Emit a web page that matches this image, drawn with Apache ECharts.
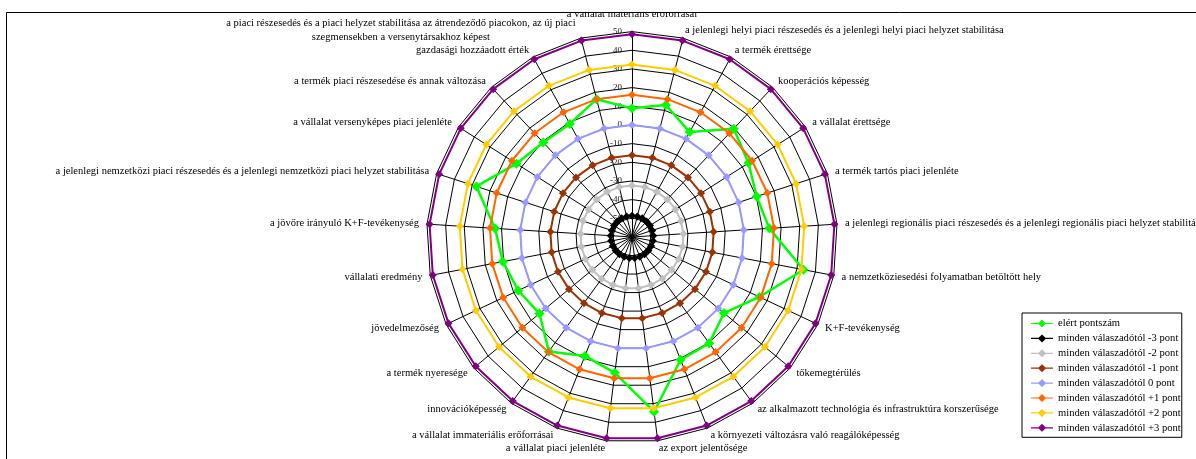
<!DOCTYPE html>
<html>
<head>
<meta charset="utf-8">
<script src="https://cdn.jsdelivr.net/npm/echarts@6/dist/echarts.min.js"></script>
<style>
  html, body { margin: 0; padding: 0; background: #fff; }
  #chart { width: 1196px; height: 459px; }
</style>
</head>
<body>
<div id="chart"></div>
<script>
// Criteria, listed clockwise starting from the top spoke
const categories = [
  'a vállalat materiális erőforrásai',
  'a jelenlegi helyi piaci részesedés és a jelenlegi helyi piaci helyzet stabilitása',
  'a termék érettsége',
  'kooperációs képesség',
  'a vállalat érettsége',
  'a termék tartós piaci jelenléte',
  'a jelenlegi regionális piaci részesedés és a jelenlegi regionális piaci helyzet stabilitása',
  'a nemzetköziesedési folyamatban betöltött hely',
  'K+F-tevékenység',
  'tőkemegtérülés',
  'az alkalmazott technológia és infrastruktúra korszerűsége',
  'a környezeti változásra való reagálóképesség',
  'az export jelentősége',
  'a vállalat piaci jelenléte',
  'a vállalat immateriális erőforrásai',
  'innovációképesség',
  'a termék nyeresége',
  'jövedelmezőség',
  'vállalati eredmény',
  'a jövőre irányuló K+F-tevékenység',
  'a jelenlegi nemzetközi piaci részesedés és a jelenlegi nemzetközi piaci helyzet stabilitása',
  'a vállalat versenyképes piaci jelenléte',
  'a termék piaci részesedése és annak változása',
  'gazdasági hozzáadott érték',
  'a piaci részesedés és a piaci helyzet stabilitása az átrendeződő piacokon, az új piaci\nszegmensekben a versenytársakhoz képest'
];

// Achieved score per criterion
const achieved = [8.9, 13.0, 4.1, 19.6, 13.9, 10.2, 13.7, 33.5, 15.4, 3.9, 10.4, 10.7, 34.3,
                  13.3, 8.5, 15.8, 4.3, 7.3, 10.4, 13.5, 27.6, 13.3, 9.4, 9.1, 16.2];

// Reference levels: every respondent giving the same score
const allMinus3 = [-48.6, -48.6, -48.6, -48.6, -48.6, -48.6, -48.6, -48.6, -48.6, -48.6, -48.6, -48.6, -48.6,
                   -48.6, -48.6, -48.6, -48.6, -48.6, -48.6, -48.6, -48.6, -48.6, -48.6, -48.6, -48.6];
const allMinus2 = [-32.4, -32.4, -32.4, -32.4, -32.4, -32.4, -32.4, -32.4, -32.4, -32.4, -32.4, -32.4, -32.4,
                   -32.4, -32.4, -32.4, -32.4, -32.4, -32.4, -32.4, -32.4, -32.4, -32.4, -32.4, -32.4];
const allMinus1 = [-16.2, -16.2, -16.2, -16.2, -16.2, -16.2, -16.2, -16.2, -16.2, -16.2, -16.2, -16.2, -16.2,
                   -16.2, -16.2, -16.2, -16.2, -16.2, -16.2, -16.2, -16.2, -16.2, -16.2, -16.2, -16.2];
const allZero   = [0, 0, 0, 0, 0, 0, 0, 0, 0, 0, 0, 0, 0,
                   0, 0, 0, 0, 0, 0, 0, 0, 0, 0, 0, 0];
const allPlus1  = [16.2, 16.2, 16.2, 16.2, 16.2, 16.2, 16.2, 16.2, 16.2, 16.2, 16.2, 16.2, 16.2,
                   16.2, 16.2, 16.2, 16.2, 16.2, 16.2, 16.2, 16.2, 16.2, 16.2, 16.2, 16.2];
const allPlus2  = [32.4, 32.4, 32.4, 32.4, 32.4, 32.4, 32.4, 32.4, 32.4, 32.4, 32.4, 32.4, 32.4,
                   32.4, 32.4, 32.4, 32.4, 32.4, 32.4, 32.4, 32.4, 32.4, 32.4, 32.4, 32.4];
const allPlus3  = [48.6, 48.6, 48.6, 48.6, 48.6, 48.6, 48.6, 48.6, 48.6, 48.6, 48.6, 48.6, 48.6,
                   48.6, 48.6, 48.6, 48.6, 48.6, 48.6, 48.6, 48.6, 48.6, 48.6, 48.6, 48.6];

const seriesNames = [
  'elért pontszám',
  'minden válaszadótól -3 pont',
  'minden válaszadótól -2 pont',
  'minden válaszadótól -1 pont',
  'minden válaszadótól 0 pont',
  'minden válaszadótól +1 pont',
  'minden válaszadótól +2 pont',
  'minden válaszadótól +3 pont'
];
const seriesValues = [achieved, allMinus3, allMinus2, allMinus1, allZero, allPlus1, allPlus2, allPlus3];
const seriesColors = ['#00FF00', '#000000', '#C0C0C0', '#993300', '#9999FF', '#FF6600', '#FFCC00', '#800080'];

// Value axis range and step
const axisMin = -60;
const axisMax = 50;
const axisStep = 10;

const FONT = '"Liberation Serif", "Times New Roman", serif';

// ECharts lays radar spokes out counter-clockwise; reorder so the criteria run clockwise.
const n = categories.length;
const order = categories.map((_, j) => (n - j) % n);
const reorder = arr => order.map(i => arr[i]);

const indicators = reorder(categories).map((name, j) => {
  const ind = { name: name, min: axisMin, max: axisMax };
  if (j === 0) {
    ind.axisLabel = {
      show: true, color: '#222', fontSize: 9, fontFamily: FONT,
      margin: 10, showMinLabel: false
    };
    ind.nameTextStyle = { padding: [0, 0, 4, 0] };
  }
  return ind;
});

// Legend marker: short line with a diamond in the middle
const legendIcon = 'path://M0,3.4H7.5L11,0L14.5,3.4H22V4.6H14.5L11,8L7.5,4.6H0Z';

const chart = echarts.init(document.getElementById('chart'), null, { renderer: 'canvas' });

chart.setOption({
  animation: false,
  backgroundColor: '#fff',
  legend: {
    orient: 'vertical',
    left: 1022,
    top: 313,
    padding: [5, 1, 4, 9],
    itemGap: 3.9,
    itemWidth: 22,
    itemHeight: 8,
    itemTextGap: 4,
    borderColor: '#000',
    borderWidth: 1,
    backgroundColor: '#fff',
    selectedMode: false,
    textStyle: { fontFamily: FONT, fontSize: 10.6, color: '#000' },
    data: seriesNames.map(name => ({ name: name, icon: legendIcon }))
  },
  radar: {
    center: [632, 237],
    radius: 205.4,
    startAngle: 90,
    splitNumber: (axisMax - axisMin) / axisStep,
    shape: 'polygon',
    nameGap: 8,
    indicator: indicators,
    axisName: {
      color: '#000',
      fontFamily: FONT,
      fontSize: 10.5,
      formatter: function (name) {
        if (name.indexOf('\n') < 0) return name;
        return name.split('\n').map(s => '{w|' + s + '}').join('\n');
      },
      rich: {
        w: { width: 356, align: 'center', lineHeight: 14, fontFamily: FONT, fontSize: 10.5, color: '#000' }
      }
    },
    axisLine: { lineStyle: { color: '#000', width: 1 } },
    axisTick: { show: false },
    splitLine: { lineStyle: { color: '#000', width: 1 } },
    splitArea: { show: false }
  },
  series: seriesNames.map((name, i) => ({
    type: 'radar',
    name: name,
    symbol: 'diamond',
    symbolSize: i === 0 ? 10 : 8,
    lineStyle: { color: seriesColors[i], width: i === 0 ? 2.5 : 2 },
    itemStyle: { color: seriesColors[i] },
    silent: true,
    data: [{ name: name, value: reorder(seriesValues[i]) }]
  })),
  graphic: [
    { type: 'rect', z: 100, shape: { x: 0, y: 0, width: 1196, height: 12 }, style: { fill: '#fff' } },
    { type: 'rect', z: 101, shape: { x: 6.5, y: 12.5, width: 1300, height: 600 },
      style: { fill: null, stroke: '#000', lineWidth: 1 } }
  ]
});
</script>
</body>
</html>
